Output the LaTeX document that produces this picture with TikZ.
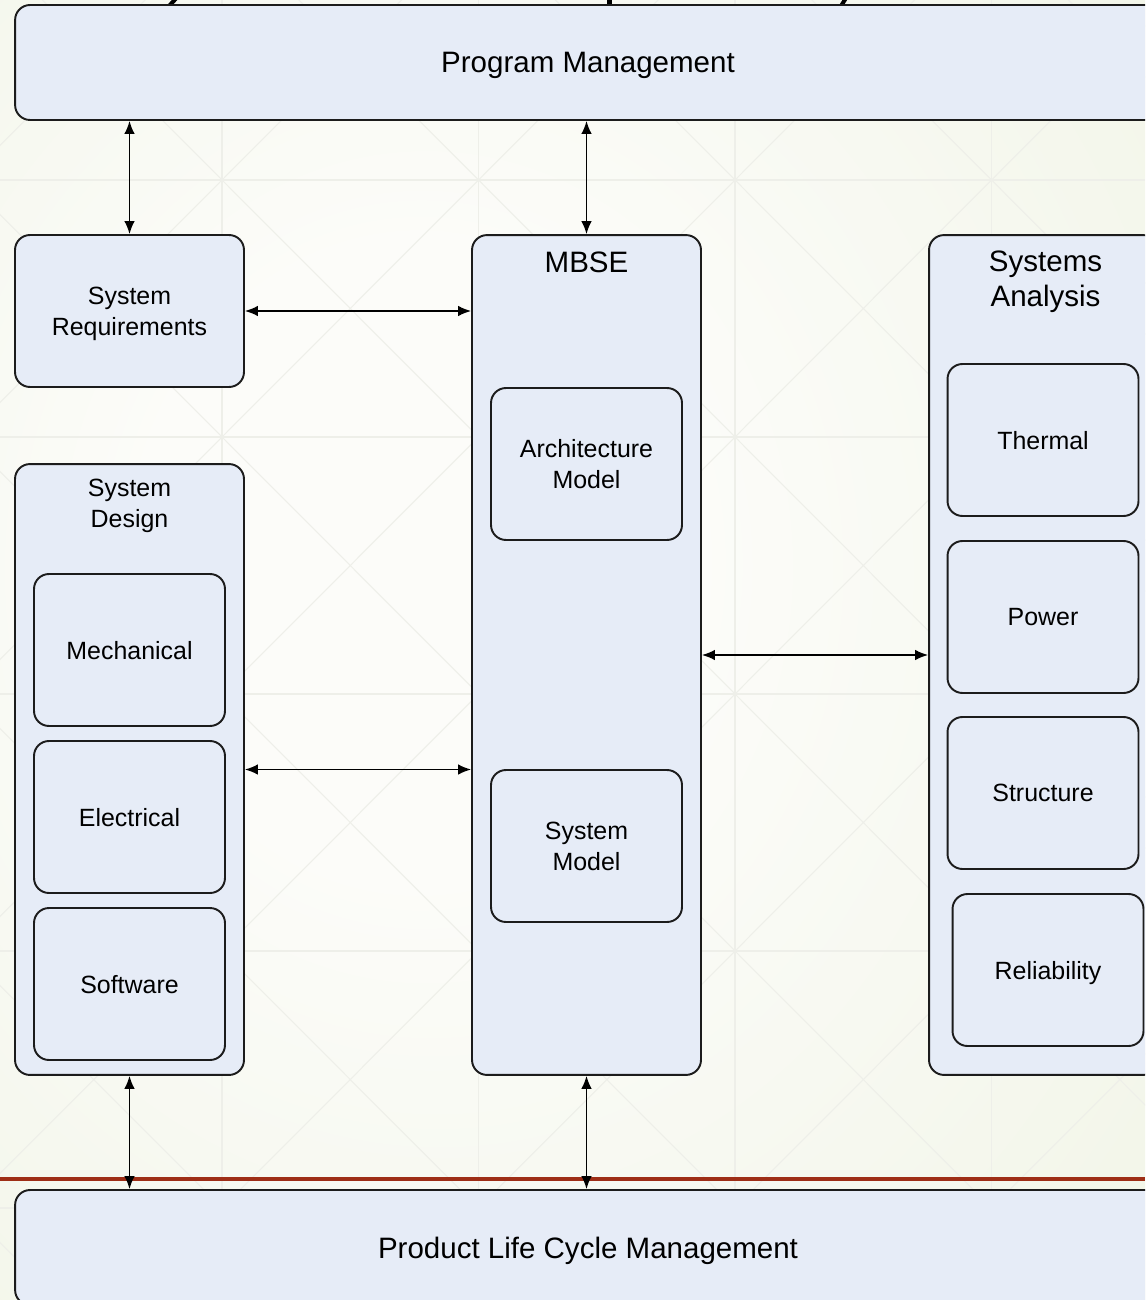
\documentclass[tikz,border=0pt]{standalone}
\usepackage{fontspec}
\setmainfont{Liberation Sans}
\usetikzlibrary{arrows.meta}

\definecolor{boxfill}{RGB}{230,236,247}
\definecolor{boxline}{RGB}{28,28,28}
\definecolor{paperedge}{RGB}{237,242,224}
\definecolor{papermid}{RGB}{252,252,249}
\definecolor{lattice}{RGB}{238,239,233}
\definecolor{rulered}{RGB}{158,46,22}

\pgfdeclareradialshading{paper}{\pgfpoint{-8bp}{4bp}}{color(0bp)=(papermid); color(12bp)=(papermid); color(52bp)=(paperedge); color(80bp)=(paperedge)}

\tikzset{
  box/.style={draw=boxline, fill=boxfill, line width=1.1pt, rounded corners=8.5pt,
    inner sep=0pt, align=center, text depth=0pt, font=\fontsize{14.2}{17.6}\selectfont},
  bigbox/.style={box, font=\fontsize{16.8}{19.8}\selectfont},
  cell/.style={box, minimum width=3.82cm, minimum height=3.04cm},
  title/.style={inner sep=0pt, align=center, font=\fontsize{14.2}{17.6}\selectfont},
  bigtitle/.style={title, font=\fontsize{16.8}{19.8}\selectfont},
  link/.style={{Latex[length=2.6mm,width=2.1mm]}-{Latex[length=2.6mm,width=2.1mm]}, line width=0.8pt},
  grid line/.style={draw=lattice, line width=0.6pt},
}

\begin{document}
\begin{tikzpicture}[x=0.02cm,y=-0.02cm]
\useasboundingbox (0,0) rectangle (1145,1300);
\clip (0,0) rectangle (1145,1300);

% paper and lattice
\shade[shading=paper] (0,0) rectangle (1145,1300);
\foreach \y in {180,437,694,951,1208} \draw[grid line] (0,\y) -- (1145,\y);
\foreach \x in {222,478.5,735,991.5} \draw[grid line] (\x,0) -- (\x,1300);
\foreach \i in {-1,...,4}
  \foreach \j in {-1,...,4}
    \draw[grid line] ({222+256.5*\i},{180+257*\j}) -- ++(256.5,257) ++(-256.5,0) -- ++(256.5,-257);

% ends of the heading above
\draw[line width=2.3pt, black] (176.5,-2) -- (169,6);
\draw[line width=2.3pt, black] (609.5,-2) -- (609.5,6);
\draw[line width=2.3pt, black] (846,-2) -- (841,6);

\draw[rulered, line width=1.8pt] (0,1179) -- (1145,1179);

% outer blocks
\node[bigbox, minimum width=22.92cm, minimum height=2.3cm] (pm) at (588,62.5) {Program Management};
\node[bigbox, minimum width=22.92cm, minimum height=2.3cm] (plm) at (588,1247.5) {Product Life Cycle Management};

\node[box, minimum width=4.58cm, minimum height=3.04cm] (req) at (129.5,311) {System\\Requirements};

\node[box, minimum width=4.58cm, minimum height=12.22cm] (design) at (129.5,769.5) {};
\node[title] (designtitle) at (129.5,506) {System\\Design};
\node[cell] (mech) at (129.5,650) {Mechanical};
\node[cell] (elec) at (129.5,817) {Electrical};
\node[cell] (soft) at (129.5,984) {Software};

\node[box, minimum width=4.58cm, minimum height=16.8cm] (mbse) at (586.5,655) {};
\node[bigtitle] (mbsetitle) at (586.5,262) {MBSE};
\node[cell] (arch) at (586.5,464) {Architecture\\Model};
\node[cell] (sysmodel) at (586.5,846) {System\\Model};

\node[box, minimum width=4.58cm, minimum height=16.8cm] (analysis) at (1043.5,655) {};
\node[bigtitle] (analysistitle) at (1045.5,282) {Systems\\Analysis};
\node[cell] (thermal) at (1043,440) {Thermal};
\node[cell] (power) at (1043,617) {Power};
\node[cell] (struct) at (1043,793) {Structure};
\node[cell] (rel) at (1048,970) {Reliability};

% links
\draw[link] (req.north) -- (req.north |- pm.south);
\draw[link] (mbse.north) -- (mbse.north |- pm.south);
\draw[link] (req.east) -- (req.east -| mbse.west);
\draw[link] (design.east) -- (design.east -| mbse.west);
\draw[link] (mbse.east) -- (mbse.east -| analysis.west);
\draw[link] (design.south) -- (design.south |- plm.north);
\draw[link] (mbse.south) -- (mbse.south |- plm.north);
\end{tikzpicture}
\end{document}
